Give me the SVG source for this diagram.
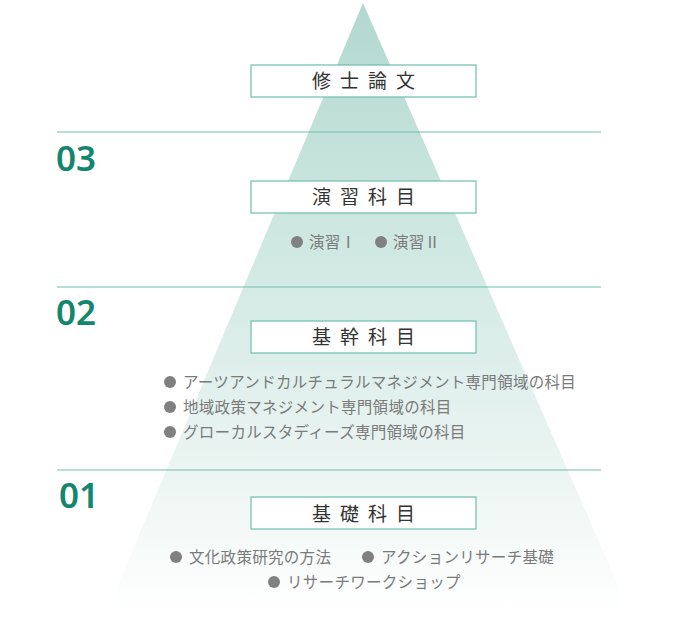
<svg xmlns="http://www.w3.org/2000/svg" width="700" height="642" viewBox="0 0 700 642">
<style>
.box{fill:#fff;stroke:#6dbfae;stroke-width:1.2}
.bt{font-family:"Noto Sans CJK JP","Noto Sans",sans-serif;font-size:19px;fill:#333;letter-spacing:9px;text-anchor:middle}
.it{font-family:"Noto Sans CJK JP","Noto Sans",sans-serif;font-size:15.5px;fill:#7a7a7a;letter-spacing:0.3px}
.num{font-family:"Noto Sans","Liberation Sans",sans-serif;font-size:35px;fill:#13866d;font-weight:600}
.ln{stroke:#6dbfae;stroke-width:1}
.dot{fill:#808080}
</style>
<defs>
<linearGradient id="g" x1="0" y1="0" x2="0" y2="1">
<stop offset="0" stop-color="#b2d8cf"/>
<stop offset="0.45" stop-color="#d3eae4"/>
<stop offset="0.8" stop-color="#eef6f4"/>
<stop offset="1" stop-color="#ffffff"/>
</linearGradient>
</defs>
<polygon points="363,3 618,585 620,610 116,610 118,585" fill="url(#g)"/>
<g id="connectors">
<line class="ln" x1="57" y1="132" x2="601" y2="132"/>
<line class="ln" x1="57" y1="287" x2="601" y2="287"/>
<line class="ln" x1="57" y1="470" x2="601" y2="470"/>
</g>
<text class="num" x="56" y="171">03</text>
<text class="num" x="56" y="325">02</text>
<text class="num" x="59" y="508">01</text>
<g id="n-thesis"><rect class="box" x="251" y="65" width="225" height="32"/><text class="bt" x="368" y="88">修士論文</text></g>
<g id="n-seminar"><rect class="box" x="251" y="181" width="225" height="32"/><text class="bt" x="368" y="204">演習科目</text>
<circle class="dot" cx="297" cy="242" r="6"/><text class="it" x="309" y="248">演習Ⅰ</text>
<circle class="dot" cx="381" cy="242" r="6"/><text class="it" x="393" y="248">演習Ⅱ</text></g>
<g id="n-core"><rect class="box" x="251" y="321" width="225" height="32"/><text class="bt" x="368" y="344">基幹科目</text>
<circle class="dot" cx="170" cy="382" r="6"/><text class="it" x="183" y="388">アーツアンドカルチュラルマネジメント専門領域の科目</text>
<circle class="dot" cx="170" cy="407" r="6"/><text class="it" x="183" y="413">地域政策マネジメント専門領域の科目</text>
<circle class="dot" cx="170" cy="432" r="6"/><text class="it" x="183" y="438">グローカルスタディーズ専門領域の科目</text></g>
<g id="n-basic"><rect class="box" x="251" y="497" width="225" height="32"/><text class="bt" x="368" y="521">基礎科目</text>
<circle class="dot" cx="176" cy="557" r="6"/><text class="it" x="189" y="563">文化政策研究の方法</text>
<circle class="dot" cx="368" cy="557" r="6"/><text class="it" x="381" y="563">アクションリサーチ基礎</text>
<circle class="dot" cx="274" cy="582" r="6"/><text class="it" x="287" y="588">リサーチワークショップ</text></g>
</svg>
